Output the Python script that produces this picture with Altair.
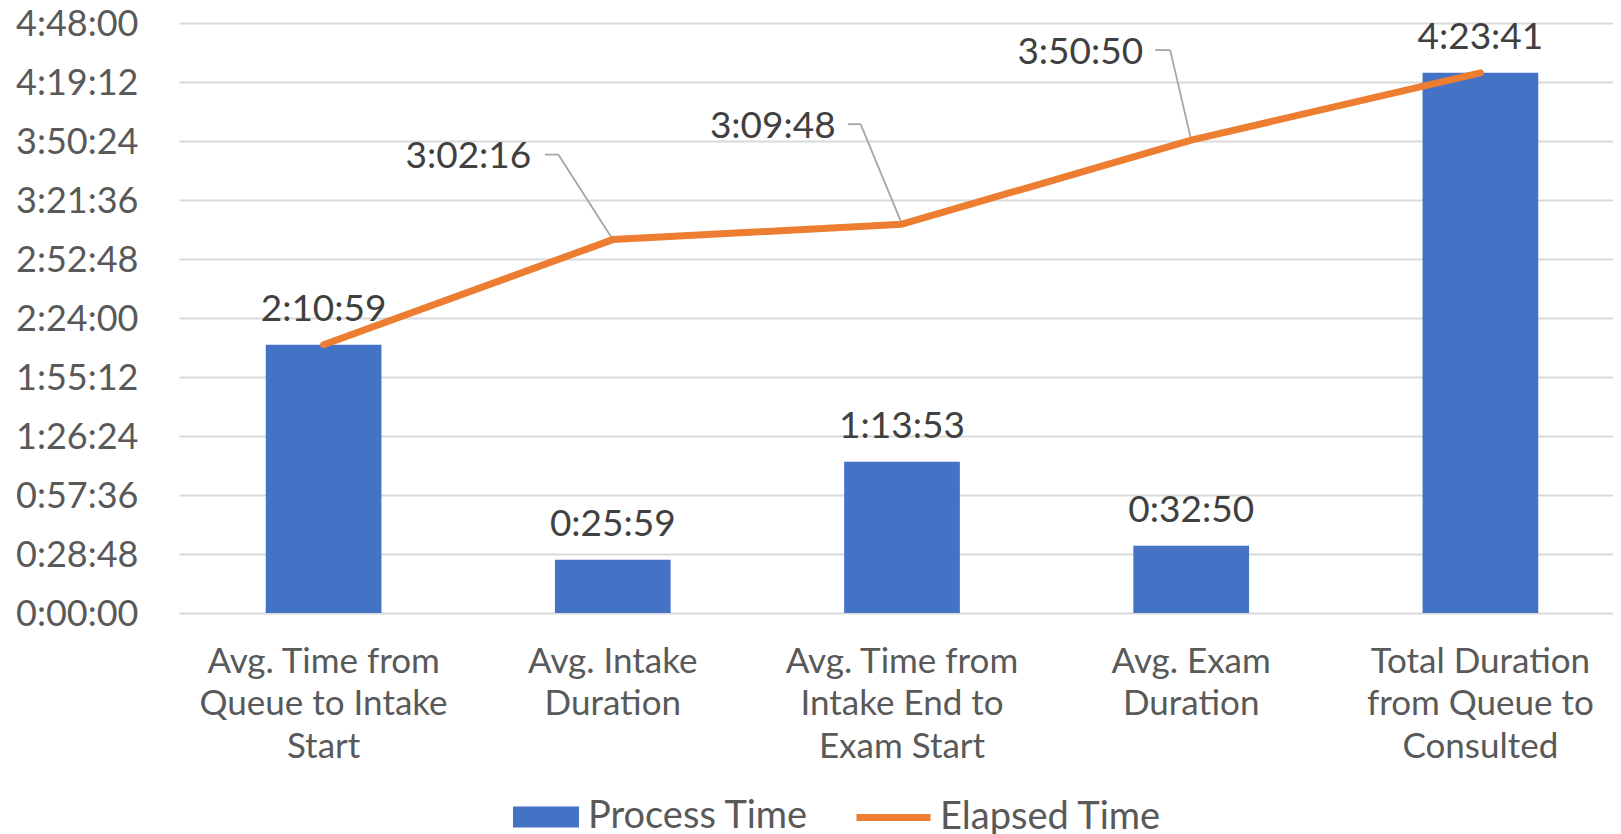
import altair as alt
import pandas as pd

# ---------------- data ----------------
categories = [
    "Avg. Time from\nQueue to Intake\nStart",
    "Avg. Intake\nDuration",
    "Avg. Time from\nIntake End to\nExam Start",
    "Avg. Exam\nDuration",
    "Total Duration\nfrom Queue to\nConsulted",
]
process_time = ["2:10:59", "0:25:59", "1:13:53", "0:32:50", "4:23:41"]
elapsed_time = ["2:10:59", "3:02:16", "3:09:48", "3:50:50", "4:23:41"]
y_tick_labels = ["0:00:00", "0:28:48", "0:57:36", "1:26:24", "1:55:12", "2:24:00",
                 "2:52:48", "3:21:36", "3:50:24", "4:19:12", "4:48:00"]
series_names = ["Process Time", "Elapsed Time"]


def to_seconds(s):
    h, m, sec = (int(p) for p in s.split(":"))
    return h * 3600 + m * 60 + sec


df = pd.DataFrame({
    "idx": list(range(len(categories))),
    "category": categories,
    "process": [to_seconds(v) for v in process_time],
    "process_label": process_time,
    "elapsed": [to_seconds(v) for v in elapsed_time],
    "elapsed_label": elapsed_time,
    "s1": series_names[0],
    "s2": series_names[1],
})
y_ticks = [to_seconds(v) for v in y_tick_labels]
YMAX = y_ticks[-1]

# ---------------- styling ----------------
FONT = "Lato"
AXIS_GRAY = "#595959"
LABEL_GRAY = "#404040"
BLUE = "#4472C4"
ORANGE = "#ED7D31"
LEADER = "#A6A6A6"

PLOT_W, PLOT_H = 1434, 590

x_enc = alt.X(
    "category:N", sort=categories, title=None,
    scale=alt.Scale(range=[0, 1446], paddingInner=0.6, paddingOuter=0.3),
    axis=alt.Axis(labelAngle=0, labelExpr="split(datum.label, '\\n')",
                  labelFontSize=35, labelLineHeight=42.5, labelColor=AXIS_GRAY,
                  labelBaseline="alphabetic", labelPadding=59, labelLimit=0,
                  ticks=False, domain=False, labelFont=FONT),
)

y_axis = alt.Axis(values=y_ticks,
                  labelExpr="utcFormat(datum.value*1000, '%-H:%M:%S')",
                  labelFontSize=36, labelColor=AXIS_GRAY, labelPadding=41,
                  labelOffset=1.5,
                  ticks=False, domain=False, grid=True, gridColor="#D9D9D9",
                  gridWidth=2, labelFont=FONT, labelLimit=0)
y_scale = alt.Scale(domain=[0, YMAX], nice=False, zero=True)


def y_of(field):
    return alt.Y(f"{field}:Q", title=None, scale=y_scale, axis=y_axis)


base = alt.Chart(df)

bars = base.mark_bar(size=115.7).encode(
    x=x_enc, y=y_of("process"),
    color=alt.Color("s1:N", scale=alt.Scale(domain=[series_names[0]], range=[BLUE]),
                    legend=alt.Legend(title=None, orient="none", legendX=334, legendY=761,
                                      symbolType="M-1,-0.318H1V0.318H-1Z", symbolSize=4356,
                                      symbolStrokeWidth=0, labelFontSize=38, labelLimit=0,
                                      labelColor=AXIS_GRAY, labelOffset=9, labelFont=FONT)),
)

line = base.mark_line(strokeWidth=7, strokeCap="round", strokeJoin="round").encode(
    x=x_enc, y=y_of("elapsed"),
    stroke=alt.Stroke("s2:N", scale=alt.Scale(domain=[series_names[1]], range=[ORANGE]),
                      legend=alt.Legend(title=None, orient="none", legendX=674, legendY=754,
                                        symbolType="stroke", symbolSize=5476,
                                        symbolStrokeWidth=7, labelFontSize=38, labelLimit=0,
                                        labelColor=AXIS_GRAY, labelOffset=6, labelFont=FONT)),
)

bar_labels = base.mark_text(baseline="alphabetic", dy=-24, fontSize=37,
                            color=LABEL_GRAY, font=FONT).encode(
    x=x_enc, y=y_of("process"), text="process_label:N")

# callout layout for the elapsed-time labels (pixel offsets from the point)
callouts = {
    1: dict(elbow=(-54.5, -85), end=(-68, -85), text=(-81.5, -71.6)),
    2: dict(elbow=(-41.4, -100), end=(-54, -100), text=(-66.3, -86)),
    3: dict(elbow=(-21, -90), end=(-36, -90), text=(-48, -76.5)),
}

leader_layers = []
text_layers = []
for i, c in callouts.items():
    sub = base.transform_filter(alt.datum.idx == i)
    ex, ey = c["elbow"]
    hx, hy = c["end"]
    tx, ty = c["text"]
    leader_layers.append(sub.mark_rule(color=LEADER, strokeWidth=1.8,
                                       x2Offset=ex, y2Offset=ey).encode(
        x=x_enc, y=y_of("elapsed"), x2=alt.X2("category"), y2=alt.Y2("elapsed")))
    leader_layers.append(sub.mark_rule(color=LEADER, strokeWidth=1.8,
                                       xOffset=ex, yOffset=ey,
                                       x2Offset=hx, y2Offset=hy).encode(
        x=x_enc, y=y_of("elapsed"), x2=alt.X2("category"), y2=alt.Y2("elapsed")))
    text_layers.append(sub.mark_text(align="right", baseline="alphabetic", dx=tx, dy=ty,
                                     fontSize=37, color=LABEL_GRAY, font=FONT).encode(
        x=x_enc, y=y_of("elapsed"), text="elapsed_label:N"))

chart = alt.layer(bars, *leader_layers, line, bar_labels, *text_layers).properties(
    width=PLOT_W, height=PLOT_H,
    padding={"left": 171, "top": 15, "right": 0, "bottom": 232},
    autosize=alt.AutoSizeParams(type="none"),
    background="white",
).configure(font=FONT).configure_view(stroke=None)

chart.save("out.html", embed_options={"renderer": "svg", "actions": False})
